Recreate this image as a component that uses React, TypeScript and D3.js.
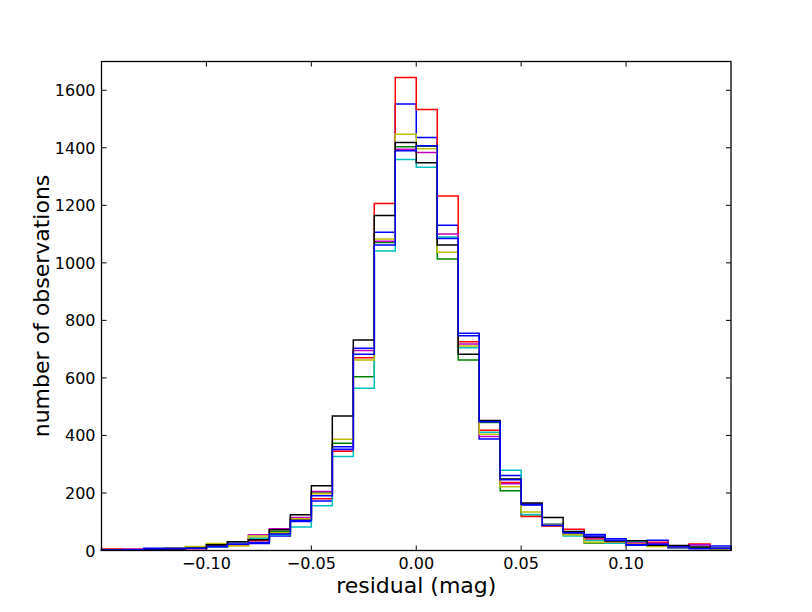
import { useEffect, useRef } from 'react';
import * as d3 from 'd3';

// bin left edges, width 0.01, from -0.15 to 0.14
const binEdges = d3.range(31).map((i) => -0.15 + i * 0.01);

// counts per bin, one array per series (matplotlib b, g, r, c, m, y, k, b cycle)
const seriesBlueA = [2, 3, 8, 9, 9, 12, 25, 24, 50, 101, 172, 361, 703, 1106, 1552, 1436, 1131, 755, 388, 261, 158, 86, 64, 56, 41, 18, 36, 9, 20, 16];
const seriesGreen = [3, 3, 4, 5, 12, 18, 22, 43, 66, 109, 200, 373, 604, 1071, 1404, 1405, 1013, 662, 445, 208, 124, 88, 58, 26, 30, 33, 20, 12, 10, 6];
const seriesRed = [5, 4, 5, 6, 7, 15, 20, 34, 60, 110, 180, 345, 670, 1206, 1644, 1533, 1232, 726, 418, 236, 118, 85, 74, 40, 30, 25, 29, 14, 23, 6];
const seriesCyan = [3, 3, 4, 5, 8, 12, 24, 41, 55, 82, 156, 327, 564, 1041, 1359, 1332, 1090, 705, 411, 279, 125, 92, 50, 35, 25, 30, 15, 10, 8, 6];
const seriesMagenta = [3, 4, 5, 5, 6, 14, 22, 55, 76, 115, 205, 350, 695, 1075, 1395, 1384, 1100, 718, 396, 232, 162, 90, 62, 44, 30, 26, 25, 12, 20, 6];
const seriesYellow = [3, 3, 5, 8, 14, 24, 16, 50, 62, 110, 197, 387, 662, 1083, 1447, 1397, 1037, 711, 404, 222, 134, 90, 55, 29, 30, 22, 14, 10, 8, 6];
const seriesBlack = [3, 3, 4, 5, 8, 20, 30, 37, 72, 124, 225, 468, 732, 1165, 1418, 1348, 1062, 682, 452, 249, 165, 115, 66, 47, 33, 34, 18, 17, 12, 8];
const seriesBlueB = [2, 3, 6, 7, 8, 14, 22, 28, 57, 104, 190, 352, 682, 1062, 1390, 1407, 1085, 747, 448, 246, 160, 88, 62, 50, 36, 20, 22, 12, 6, 8];

const seriesColors = ['#0000ff', '#008000', '#ff0000', '#00bfbf', '#bf00bf', '#bfbf00', '#000000', '#0000ff'];
const allSeries = [seriesBlueA, seriesGreen, seriesRed, seriesCyan, seriesMagenta, seriesYellow, seriesBlack, seriesBlueB];

const xTicks = [-0.1, -0.05, 0, 0.05, 0.1];
const yTicks = [0, 200, 400, 600, 800, 1000, 1200, 1400, 1600];

const W = 812;
const H = 612;

export default function App() {
  const svgRef = useRef<SVGSVGElement>(null);

  useEffect(() => {
    if (!svgRef.current) return;
    const svg = d3.select(svgRef.current);
    svg.selectAll('*').remove();

    const left = 101.5, right = 731, top = 61.5, bottom = 550.5;
    const x = d3.scaleLinear().domain([-0.15, 0.15]).range([left, right]);
    const y = d3.scaleLinear().domain([0, 1700]).range([bottom, top]);
    const font = 'DejaVu Sans, sans-serif';

    svg.append('rect').attr('width', W).attr('height', H).attr('fill', '#fff');

    svg.append('defs').append('clipPath').attr('id', 'plotclip')
      .append('rect').attr('x', left - 1).attr('y', top).attr('width', right - left + 2).attr('height', bottom - top + 1);

    const line = d3.line<[number, number]>()
      .x((d) => x(d[0]))
      .y((d) => y(d[1]));

    const g = svg.append('g').attr('clip-path', 'url(#plotclip)');
    allSeries.forEach((vals, si) => {
      const pts: [number, number][] = [[binEdges[0], 0]];
      vals.forEach((v, i) => {
        pts.push([binEdges[i], v]);
        pts.push([binEdges[i + 1], v]);
      });
      pts.push([binEdges[30], 0]);
      g.append('path')
        .attr('d', line(pts))
        .attr('fill', 'none')
        .attr('stroke', seriesColors[si])
        .attr('stroke-width', 1.5);
    });

    // frame
    svg.append('rect')
      .attr('x', left).attr('y', top)
      .attr('width', right - left).attr('height', bottom - top)
      .attr('fill', 'none').attr('stroke', '#000').attr('stroke-width', 1.3);

    const tickLen = 5;
    const fmtX = (v: number) => (Math.abs(v) < 1e-9 ? '0.00' : d3.format('.2f')(v).replace('-', '\u2212'));

    xTicks.forEach((t) => {
      const px = x(t);
      svg.append('line').attr('x1', px).attr('x2', px).attr('y1', bottom).attr('y2', bottom - tickLen).attr('stroke', '#000');
      svg.append('line').attr('x1', px).attr('x2', px).attr('y1', top).attr('y2', top + tickLen).attr('stroke', '#000');
      svg.append('text')
        .attr('x', px).attr('y', bottom + 18)
        .attr('text-anchor', 'middle')
        .attr('font-family', font).attr('font-size', 16)
        .text(fmtX(t));
    });

    yTicks.forEach((t) => {
      const py = y(t);
      svg.append('line').attr('x1', left).attr('x2', left + tickLen).attr('y1', py).attr('y2', py).attr('stroke', '#000');
      svg.append('line').attr('x1', right).attr('x2', right - tickLen).attr('y1', py).attr('y2', py).attr('stroke', '#000');
      svg.append('text')
        .attr('x', left - 6).attr('y', py + 6)
        .attr('text-anchor', 'end')
        .attr('font-family', font).attr('font-size', 16)
        .text(String(t));
    });

    svg.append('text')
      .attr('x', (left + right) / 2).attr('y', 593)
      .attr('text-anchor', 'middle')
      .attr('font-family', font).attr('font-size', 22)
      .text('residual (mag)');

    svg.append('text')
      .attr('transform', `translate(49, ${(top + bottom) / 2}) rotate(-90)`)
      .attr('text-anchor', 'middle')
      .attr('font-family', font).attr('font-size', 22)
      .text('number of observations');
  }, []);

  return (
    <svg ref={svgRef} width={W} height={H} style={{ position: 'absolute', left: 0, top: 0 }} />
  );
}
